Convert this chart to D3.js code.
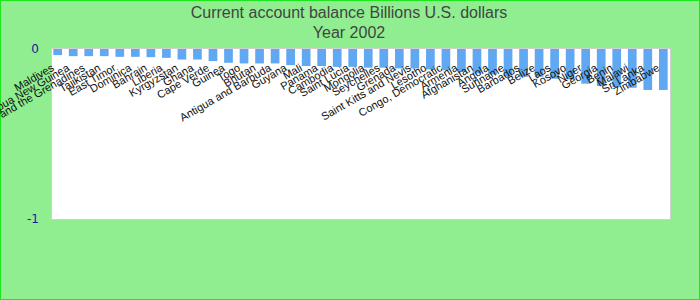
<!DOCTYPE html>
<meta charset="utf-8">
<head>
<style>
  body { margin: 0; }
  svg { display: block; }
</style>
</head>
<body>
<div id="chart"></div>
<script src="https://cdn.jsdelivr.net/npm/d3@7"></script>
<script>

  // data
  const countries = [
    "Maldives", "Papua New Guinea", "Saint Vincent and the Grenadines", "Tajikistan",
    "East Timor", "Dominica", "Bahrain", "Liberia", "Kyrgyzstan", "Ghana",
    "Cape Verde", "Guinea", "Togo", "Bhutan", "Antigua and Barbuda",
    "Guyana", "Mali", "Panama", "Cambodia", "Saint Lucia",
    "Mongolia", "Seychelles", "Grenada", "Saint Kitts and Nevis", "Lesotho",
    "Congo, Democratic", "Armenia", "Afghanistan", "Angola", "Suriname",
    "Barbados", "Belize", "Laos", "Kosovo", "Niger",
    "Georgia", "Benin", "Malawi", "Sri Lanka", "Zimbabwe"
  ];
  const balance = [
    -0.036, -0.042, -0.042, -0.042, -0.046, -0.046, -0.048, -0.052, -0.062, -0.062,
    -0.071, -0.081, -0.085, -0.085, -0.085, -0.095, -0.100, -0.100, -0.105, -0.105,
    -0.110, -0.110, -0.114, -0.114, -0.120, -0.124, -0.134, -0.144, -0.150, -0.160,
    -0.163, -0.163, -0.175, -0.179, -0.204, -0.218, -0.224, -0.228, -0.241, -0.241
  ];
  const yTicks = [0, -1];
  const titleLines = ["Current account balance Billions U.S. dollars", "Year 2002"];

  const data = countries.map((c, i) => ({country: c, value: balance[i]}));

  const W = 700, H = 300;
  const plot = {left: 51, right: 670, top: 48, bottom: 219};

  const svg = d3.select("#chart")
    .append("svg")
      .attr("width", W)
      .attr("height", H);

  // background with the bright green frame
  svg.append("rect")
    .attr("x", 0.5).attr("y", 0.5)
    .attr("width", W - 1).attr("height", H - 1)
    .attr("fill", "#90ee90")
    .attr("stroke", "#1ee61e")
    .attr("stroke-width", 1);

  // title
  svg.append("g")
    .selectAll("text")
    .data(titleLines)
    .join("text")
      .attr("x", 349)
      .attr("y", (d, i) => 18 + i * 20)
      .attr("text-anchor", "middle")
      .style("font-family", "Liberation Sans, Arial, sans-serif")
      .style("font-size", "16px")
      .attr("fill", "#444")
      .text(d => d);

  // plot area
  svg.append("rect")
    .attr("x", plot.left + 0.5).attr("y", plot.top + 0.5)
    .attr("width", plot.right - plot.left).attr("height", plot.bottom - plot.top)
    .attr("fill", "white")
    .attr("stroke", "#d0d0d0");

  const x = d3.scaleBand()
    .domain(countries)
    .range([plot.left, plot.right])
    .paddingInner(0.44)
    .paddingOuter(0.15);

  const y = d3.scaleLinear()
    .domain([-1, 0])
    .range([plot.bottom, plot.top + 1]);

  // bars
  svg.append("g")
    .selectAll("rect")
    .data(data)
    .join("rect")
      .attr("x", d => x(d.country))
      .attr("y", y(0))
      .attr("width", x.bandwidth())
      .attr("height", d => y(d.value) - y(0))
      .attr("fill", "#60a8f2");

  // y axis: only tick labels, plain hyphen minus
  const yAxis = svg.append("g")
    .attr("transform", `translate(${plot.left - 12},0)`)
    .call(d3.axisLeft(y).tickValues(yTicks).tickFormat(d => String(d)).tickSize(0).tickPadding(0));
  yAxis.select(".domain").remove();
  yAxis.selectAll("text")
    .style("font-family", "DejaVu Sans, sans-serif")
    .style("font-size", "12px")
    .attr("fill", "#1a1a9c");

  // x axis: rotated category labels near the top
  const xAxis = svg.append("g")
    .attr("transform", `translate(0,${plot.top + 20})`)
    .call(d3.axisBottom(x).tickSize(0).tickPadding(0));
  xAxis.select(".domain").remove();
  xAxis.selectAll("text")
    .attr("y", 0)
    .attr("dy", 0)
    .attr("text-anchor", "end")
    .attr("transform", "translate(-3,2) rotate(-30)")
    .style("font-family", "Liberation Sans, Arial, sans-serif")
    .style("font-size", "11px")
    .attr("fill", "#111");

</script>
</body>
